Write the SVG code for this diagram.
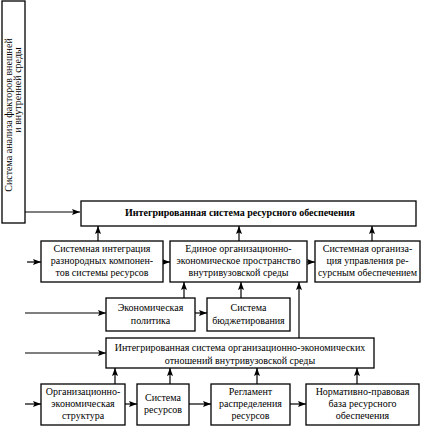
<svg xmlns="http://www.w3.org/2000/svg" width="424" height="427" viewBox="0 0 424 427">
<style>
.b{fill:#fff;stroke:#000;stroke-width:1.3}
.t{font-family:"Liberation Serif","DejaVu Serif",serif;font-size:10px;fill:#000;text-anchor:middle}
.tb{font-weight:bold;font-size:10px}
.c{stroke:#000;stroke-width:1.2;fill:none}
</style>
<defs>
<marker id="a" markerUnits="userSpaceOnUse" markerWidth="9" markerHeight="8" refX="8" refY="4" orient="auto">
<path d="M0,1 L8,4 L0,7 L1.5,4 z" fill="#000"/>
</marker>
</defs>
<rect width="424" height="427" fill="#fff"/>
<g id="connectors">
<path class="c" d="M25,212 H80" marker-end="url(#a)"/>
<path class="c" d="M98,241 V226" marker-end="url(#a)"/>
<path class="c" d="M239,241 V226" marker-end="url(#a)"/>
<path class="c" d="M372,241 V226" marker-end="url(#a)"/>
<path class="c" d="M27,262 H41" marker-end="url(#a)"/>
<path class="c" d="M163,262 H170" marker-end="url(#a)"/>
<path class="c" d="M307,262 H315" marker-end="url(#a)"/>
<path class="c" d="M184,298 V282" marker-end="url(#a)"/>
<path class="c" d="M241,298 V282" marker-end="url(#a)"/>
<path class="c" d="M299,338 V282" marker-end="url(#a)"/>
<path class="c" d="M25,313 H106" marker-end="url(#a)"/>
<path class="c" d="M195,313 H207" marker-end="url(#a)"/>
<path class="c" d="M25,353 H106" marker-end="url(#a)"/>
<path class="c" d="M115,384 V368" marker-end="url(#a)"/>
<path class="c" d="M170,384 V368" marker-end="url(#a)"/>
<path class="c" d="M257,384 V368" marker-end="url(#a)"/>
<path class="c" d="M357,384 V368" marker-end="url(#a)"/>
<path class="c" d="M25,404 H41" marker-end="url(#a)"/>
<path class="c" d="M125,404 H137" marker-end="url(#a)"/>
<path class="c" d="M189,404 H211" marker-end="url(#a)"/>
<path class="c" d="M290,404 H306" marker-end="url(#a)"/>
</g>
<g id="n_env">
<rect class="b" x="2" y="1" width="23" height="222"/>
<text class="t" transform="translate(12,115) rotate(-90)">Система анализа факторов внешней</text>
<text class="t" transform="translate(21,90) rotate(-90)">и внутренней среды</text>
</g>
<g id="n_top">
<rect class="b" x="81" y="201" width="335" height="25"/>
<text class="t tb" x="240" y="216">Интегрированная система ресурсного обеспечения</text>
</g>
<g id="n_int">
<rect class="b" x="41" y="241" width="122" height="41"/>
<text class="t" x="102" y="252">Системная интеграция</text>
<text class="t" x="102" y="264">разнородных компонен-</text>
<text class="t" x="102" y="276">тов системы ресурсов</text>
</g>
<g id="n_space">
<rect class="b" x="170" y="241" width="137" height="41"/>
<text class="t" x="238.5" y="252">Единое организационно-</text>
<text class="t" x="238.5" y="264">экономическое пространство</text>
<text class="t" x="238.5" y="276">внутривузовской среды</text>
</g>
<g id="n_org">
<rect class="b" x="315" y="241" width="105" height="41"/>
<text class="t" x="367.5" y="252">Системная организа-</text>
<text class="t" x="367.5" y="264">ция управления ре-</text>
<text class="t" x="367.5" y="276">сурсным обеспечением</text>
</g>
<g id="n_econ">
<rect class="b" x="106" y="298" width="89" height="33"/>
<text class="t" x="150.5" y="311">Экономическая</text>
<text class="t" x="150.5" y="324">политика</text>
</g>
<g id="n_budget">
<rect class="b" x="207" y="298" width="83" height="33"/>
<text class="t" x="248.5" y="311">Система</text>
<text class="t" x="248.5" y="324">бюджетирования</text>
</g>
<g id="n_rel">
<rect class="b" x="106" y="338" width="268" height="30"/>
<text class="t" x="240" y="351">Интегрированная система организационно-экономических</text>
<text class="t" x="240" y="364">отношений внутривузовской среды</text>
</g>
<g id="n_struct">
<rect class="b" x="41" y="384" width="84" height="41"/>
<text class="t" x="83" y="395">Организационно-</text>
<text class="t" x="83" y="407">экономическая</text>
<text class="t" x="83" y="419">структура</text>
</g>
<g id="n_res">
<rect class="b" x="137" y="384" width="52" height="41"/>
<text class="t" x="163" y="401">Система</text>
<text class="t" x="163" y="413">ресурсов</text>
</g>
<g id="n_reg">
<rect class="b" x="211" y="384" width="79" height="41"/>
<text class="t" x="250.5" y="395">Регламент</text>
<text class="t" x="250.5" y="407">распределения</text>
<text class="t" x="250.5" y="419">ресурсов</text>
</g>
<g id="n_norm">
<rect class="b" x="306" y="384" width="113" height="41"/>
<text class="t" x="362.5" y="395">Нормативно-правовая</text>
<text class="t" x="362.5" y="407">база ресурсного</text>
<text class="t" x="362.5" y="419">обеспечения</text>
</g>
</svg>
